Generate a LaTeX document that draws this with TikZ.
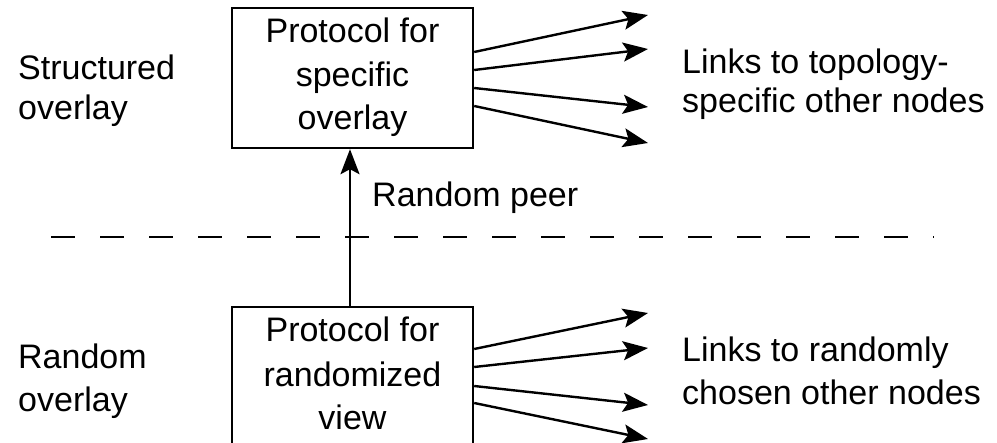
\documentclass[tikz,border=0pt]{standalone}
\usepackage{fontspec}
\setmainfont{Liberation Sans}
\usetikzlibrary{arrows.meta,calc}
\begin{document}
\begin{tikzpicture}[x=1pt,y=-1pt,
  lw/.style={line width=2.4pt},
  boxst/.style={draw,lw,rectangle,minimum width=241pt,inner sep=0pt},
  txt/.style={font=\fontsize{34}{39}\selectfont,inner sep=0pt},
  ctxt/.style={txt,anchor=base},
  ltxt/.style={txt,anchor=base west},
  arr/.style={lw,-{Stealth[length=25pt,width=19pt,inset=5pt]}}]
\useasboundingbox (0,0) rectangle (997,443);
\clip (0,0) rectangle (997,443);
% boxes
\node[boxst,minimum height=140pt] (tbox) at (352.5,78) {};
\node[boxst,minimum height=160pt] (bbox) at (352.5,387) {};
% box texts
\node[ctxt] (t1a) at (352.5,43) {Protocol for};
\node[ctxt] (t1b) at (352.5,87) {specific};
\node[ctxt] (t1c) at (352.5,130) {overlay};
\node[ctxt] (b1a) at (352.5,342) {Protocol for};
\node[ctxt] (b1b) at (352.5,387) {randomized};
\node[ctxt] (b1c) at (352.5,430) {view};
% left labels
\node[ltxt] (ls1) at (18,80) {Structured};
\node[ltxt] (ls2) at (18,120) {overlay};
\node[ltxt] (lr1) at (18,369) {Random};
\node[ltxt] (lr2) at (18,412) {overlay};
% right labels
\node[ltxt] (rt1) at (682,74) {Links to topology-};
\node[ltxt] (rt2) at (682,113) {specific other nodes};
\node[ltxt] (rb1) at (682,362) {Links to randomly};
\node[ltxt] (rb2) at (682,405) {chosen other nodes};
\node[ltxt] (peer) at (372,207) {Random peer};
% free arrow ends
\coordinate (t1) at (648,15);
\coordinate (t2) at (648,49);
\coordinate (t3) at (648,107);
\coordinate (t4) at (648,143);
\coordinate (b1) at (648,313);
\coordinate (b2) at (648,348);
\coordinate (b3) at (648,405);
\coordinate (b4) at (648,439);
% arrows
\draw[arr] (tbox.north east |- 0,52) -- (t1);
\draw[arr] (tbox.north east |- 0,70) -- (t2);
\draw[arr] (tbox.north east |- 0,88) -- (t3);
\draw[arr] (tbox.north east |- 0,106) -- (t4);
\draw[arr] (bbox.north east |- 0,349) -- (b1);
\draw[arr] (bbox.north east |- 0,367) -- (b2);
\draw[arr] (bbox.north east |- 0,386) -- (b3);
\draw[arr] (bbox.north east |- 0,403) -- (b4);
\draw[arr] (bbox.north -| 350,0) -- (tbox.south -| 350,0);
% dashed separator
\coordinate (d0) at (51,237);
\coordinate (d1) at (934,237);
\draw[lw,dash pattern=on 24pt off 25pt] (d0) -- (d1);
\end{tikzpicture}
\end{document}
